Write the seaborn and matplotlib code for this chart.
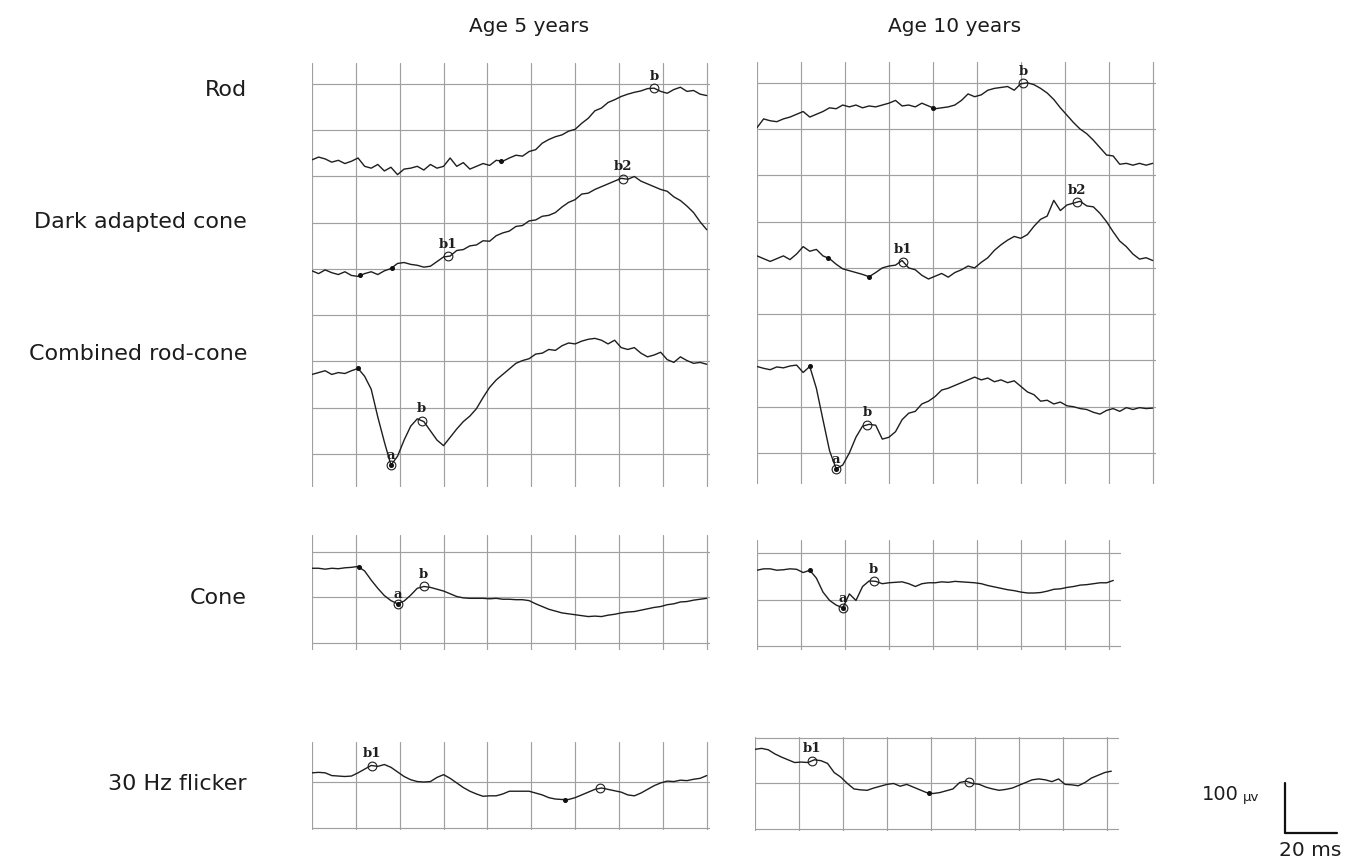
import numpy as np
import pandas as pd
import matplotlib.pyplot as plt
from matplotlib.lines import Line2D
import seaborn as sns

W, H = 1359, 867
DT = 3.0  # ms between samples

# ERG traces in µV, one sample every DT ms
rod_5 = [736, 742, 738, 731, 735, 728, 733, 740, 722, 718, 726, 712, 720, 704, 716, 718,
         722, 714, 726, 718, 722, 740, 722, 730, 716, 722, 728, 724, 735, 733, 740, 746,
         744, 754, 758, 772, 780, 786, 790, 798, 802, 815, 826, 842, 848, 860, 866, 873,
         878, 882, 885, 890, 891, 884, 880, 888, 893, 884, 886, 878, 875]
da_5 = [496, 490, 498, 492, 488, 494, 486, 484, 490, 494, 488, 496, 501, 512, 514, 510,
        508, 504, 506, 516, 526, 528, 540, 542, 550, 552, 561, 560, 572, 578, 582, 592,
        594, 604, 606, 614, 616, 622, 634, 644, 650, 662, 664, 672, 678, 684, 690, 696,
        694, 700, 690, 684, 678, 672, 668, 656, 648, 636, 622, 602, 585]
comb_5 = [272, 276, 280, 272, 276, 274, 280, 285, 268, 240, 180, 126, 76, 95, 130, 160,
          176, 170, 150, 130, 118, 136, 154, 170, 182, 198, 222, 244, 260, 272, 284, 296,
          302, 306, 316, 318, 326, 324, 334, 340, 338, 344, 348, 350, 346, 338, 346, 330,
          326, 330, 318, 310, 314, 320, 304, 298, 310, 302, 296, 298, 294]
rod_10 = [803, 822, 818, 816, 822, 826, 832, 838, 826, 832, 838, 846, 844, 852, 848, 852,
          846, 850, 848, 852, 856, 862, 850, 852, 848, 856, 850, 844, 846, 848, 852, 862,
          876, 870, 874, 884, 888, 890, 892, 884, 898, 900, 896, 888, 878, 864, 846, 830,
          814, 800, 790, 776, 760, 744, 742, 724, 726, 722, 726, 722, 726]
da_10 = [526, 520, 514, 520, 526, 518, 530, 546, 536, 540, 526, 520, 508, 498, 494, 490,
         486, 481, 490, 500, 504, 506, 516, 500, 496, 484, 476, 482, 488, 480, 490, 496,
         504, 500, 512, 522, 538, 550, 560, 568, 564, 572, 590, 605, 612, 646, 624, 636,
         640, 644, 634, 632, 618, 600, 578, 558, 546, 530, 519, 522, 516]
comb_10 = [287, 283, 280, 286, 284, 288, 290, 274, 287, 240, 172, 105, 66, 74, 100, 134,
           158, 162, 160, 130, 134, 146, 172, 186, 190, 206, 212, 222, 236, 240, 246, 252,
           258, 264, 258, 262, 254, 258, 252, 256, 244, 232, 226, 212, 214, 206, 210, 202,
           200, 196, 194, 188, 184, 192, 196, 190, 198, 194, 198, 196, 197]
cone_5 = [264, 264, 262, 264, 263, 265, 266, 268, 258, 238, 220, 204, 193, 186, 192, 205,
          220, 224, 222, 218, 214, 208, 202, 199, 198, 198, 198, 197, 198, 196, 196, 195,
          195, 193, 186, 180, 174, 170, 166, 164, 162, 160, 158, 159, 158, 161, 163, 166,
          168, 169, 172, 175, 178, 180, 184, 186, 190, 191, 194, 196, 198]
cone_10 = [263, 266, 266, 263, 264, 266, 265, 258, 263, 246, 216, 198, 188, 182, 212, 198,
           228, 240, 239, 234, 236, 237, 238, 234, 228, 234, 236, 236, 238, 237, 239, 238,
           237, 236, 234, 230, 227, 224, 221, 219, 216, 214, 214, 215, 218, 222, 223, 226,
           228, 231, 232, 234, 236, 236, 241]
flick_5 = [120, 121, 120, 114, 113, 112, 113, 120, 128, 136, 134, 138, 132, 122, 112, 105,
           101, 100, 101, 110, 116, 108, 98, 88, 80, 74, 69, 70, 70, 74, 80, 80,
           80, 80, 76, 72, 66, 63, 62, 62, 66, 72, 78, 84, 87, 84, 81, 78,
           72, 70, 76, 84, 92, 98, 102, 101, 104, 103, 106, 108, 114]
flick_10 = [175, 177, 174, 165, 158, 152, 146, 147, 146, 152, 150, 144, 124, 114, 100, 88,
            86, 85, 90, 94, 98, 100, 94, 98, 92, 86, 80, 78, 80, 84, 88, 102,
            105, 100, 98, 92, 88, 85, 87, 90, 96, 102, 108, 110, 108, 104, 110, 98,
            97, 95, 102, 112, 118, 124, 127]

# marked points: (kind, time in ms, label)
rod_5_marks = [("dot", 86, ""), ("ring", 156, "b")]
da_5_marks = [("dot", 22, ""), ("dot", 36.5, ""), ("ring", 62, "b1"), ("ring", 142, "b2")]
comb_5_marks = [("dot", 21, ""), ("ringdot", 36, "a"), ("ring", 50, "b")]
rod_10_marks = [("dot", 80, ""), ("ring", 121, "b")]
da_10_marks = [("dot", 32.5, ""), ("dot", 51, ""), ("ring", 66.5, "b1"), ("ring", 145.5, "b2")]
comb_10_marks = [("dot", 24, ""), ("ringdot", 36, "a"), ("ring", 50, "b")]
cone_5_marks = [("dot", 21.5, ""), ("ringdot", 39, "a"), ("ring", 51, "b")]
cone_10_marks = [("dot", 24, ""), ("ringdot", 39, "a"), ("ring", 53, "b")]
flick_5_marks = [("ring", 27.5, "b1"), ("dot", 115.5, ""), ("ring", 131.5, "")]
flick_10_marks = [("ring", 26, "b1"), ("dot", 79, ""), ("ring", 97.5, "")]

ages = ["Age 5 years", "Age 10 years"]
rows = ["Rod", "Dark adapted cone", "Combined rod-cone", "Cone", "30 Hz flicker"]

sns.set_theme(style="white")
plt.rcParams["font.family"] = ["DejaVu Sans"]

INK = "#1e1e1e"
GRID = "#a0a0a0"
TEXT = "#1c1c1c"

fig = plt.figure(figsize=(W / 100, H / 100), dpi=100)


def px_axes(left, top, right, bottom):
    return fig.add_axes([left / W, 1 - bottom / H, (right - left) / W, (bottom - top) / H])


def draw_trace(ax, values, marks):
    t = np.arange(len(values)) * DT
    df = pd.DataFrame({"ms": t, "uv": values})
    sns.lineplot(data=df, x="ms", y="uv", ax=ax, color=INK, lw=1.0,
                 estimator=None, sort=False)
    for kind, tm, label in marks:
        v = np.interp(tm, t, values)
        if kind in ("ring", "ringdot"):
            ax.plot(tm, v, "o", ms=6.3, mfc="none", mec=INK, mew=0.8)
        if kind in ("dot", "ringdot"):
            ax.plot(tm, v, "o", ms=2.6, color="#111111")
        if label:
            ax.annotate(label, (tm, v), xytext=(0, 2 if label == "a" else 4),
                        textcoords="offset points", ha="center", va="bottom",
                        fontsize=9.5, family="DejaVu Serif", fontweight="bold",
                        color=INK)


def setup_grid(ax, xlim, ylim, xticks, yticks):
    ax.set_xlim(*xlim)
    ax.set_ylim(*ylim)
    ax.set_xticks(xticks)
    ax.set_yticks(yticks)
    ax.set_xlabel("")
    ax.set_ylabel("")
    ax.tick_params(length=0, labelbottom=False, labelleft=False)
    ax.grid(True, color=GRID, lw=0.85)
    ax.set_axisbelow(True)
    for s in ax.spines.values():
        s.set_visible(False)
    ax.patch.set_alpha(0)


wide_ticks = np.arange(0, 181, 20)
short_ticks = np.arange(0, 161, 20)

# rod / dark adapted cone / combined share one grid per age
ax = px_axes(312, 63, 710, 487)
for vals, marks in [(rod_5, rod_5_marks), (da_5, da_5_marks), (comb_5, comb_5_marks)]:
    draw_trace(ax, vals, marks)
setup_grid(ax, (0, 181.5), (28.6, 945.4), wide_ticks, np.arange(100, 901, 100))

ax = px_axes(757, 62, 1156, 484)
for vals, marks in [(rod_10, rod_10_marks), (da_10, da_10_marks), (comb_10, comb_10_marks)]:
    draw_trace(ax, vals, marks)
setup_grid(ax, (0, 181.5), (33, 945), wide_ticks, np.arange(100, 901, 100))

# cone
ax = px_axes(312, 535, 710, 650)
draw_trace(ax, cone_5, cone_5_marks)
setup_grid(ax, (0, 181.5), (84.6, 337), wide_ticks, [100, 200, 300])

ax = px_axes(757, 540, 1121, 650)
draw_trace(ax, cone_10, cone_10_marks)
setup_grid(ax, (0, 165.5), (91.4, 328), short_ticks, [100, 200, 300])

# 30 Hz flicker
ax = px_axes(312, 742, 710, 830)
draw_trace(ax, flick_5, flick_5_marks)
setup_grid(ax, (0, 181.5), (-4.3, 187), wide_ticks, [0, 100])

ax = px_axes(755, 737, 1119, 831)
draw_trace(ax, flick_10, flick_10_marks)
setup_grid(ax, (0, 165.5), (-4.3, 202), short_ticks, [0, 100, 200])

# titles and row labels
for label, xc in zip(ages, [529, 955]):
    fig.text(xc / W, 1 - 27 / H, label, ha="center", va="center", fontsize=14.5, color=TEXT)
for label, yc in zip(rows, [90, 222, 354, 598, 784]):
    fig.text(247 / W, 1 - yc / H, label, ha="right", va="center", fontsize=16, color=TEXT)

# scale bar
fig.add_artist(Line2D([1285 / W, 1285 / W], [1 - 783 / H, 1 - 833 / H], color="#111111", lw=1.6))
fig.add_artist(Line2D([1285 / W, 1337 / W], [1 - 833 / H, 1 - 833 / H], color="#111111", lw=1.6))
fig.text(1239 / W, 1 - 794 / H, "100", ha="right", va="center", fontsize=14, color=TEXT)
fig.text(1243 / W, 1 - 797 / H, "\u03bcv", ha="left", va="center", fontsize=9.5, color=TEXT)
fig.text(1310 / W, 1 - 851 / H, "20 ms", ha="center", va="center", fontsize=14.5, color=TEXT)

fig.savefig("out.png", dpi=100)
